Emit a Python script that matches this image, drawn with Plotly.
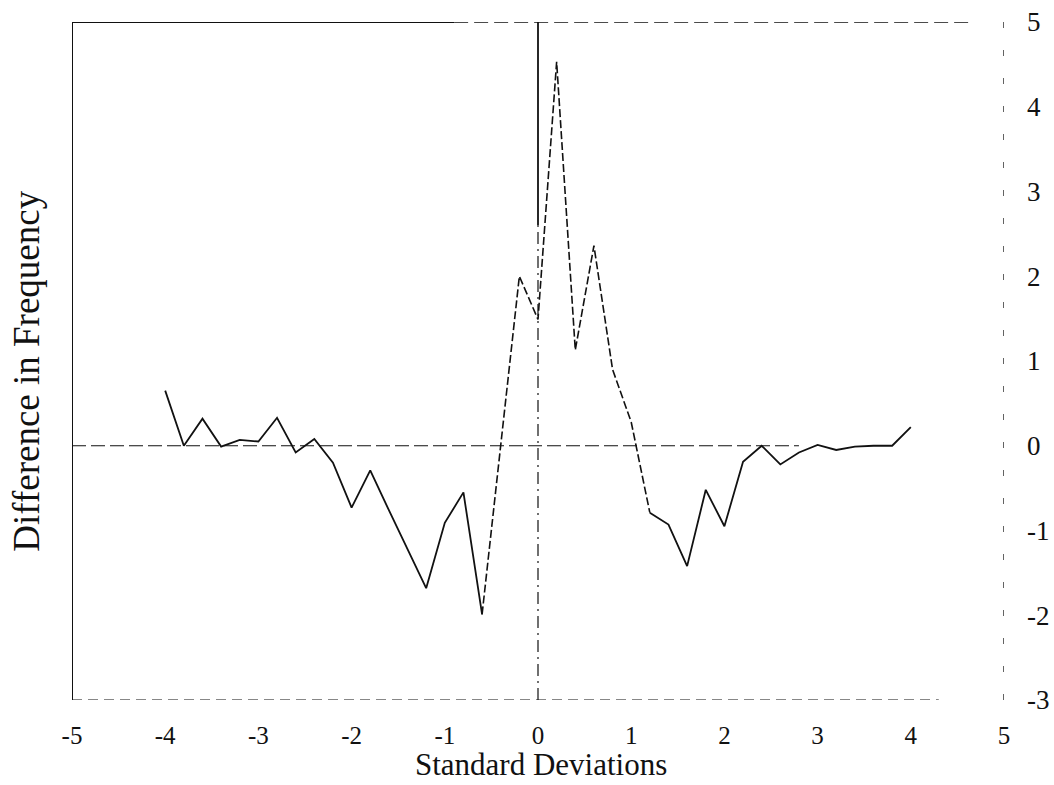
import plotly.graph_objects as go

# Data
std_dev = [-4.0, -3.8, -3.6, -3.4, -3.2, -3.0, -2.8, -2.6, -2.4, -2.2,
           -2.0, -1.8, -1.6, -1.4, -1.2, -1.0, -0.8, -0.6, -0.4, -0.2,
           0.0, 0.2, 0.4, 0.6, 0.8, 1.0, 1.2, 1.4, 1.6, 1.8,
           2.0, 2.2, 2.4, 2.6, 2.8, 3.0, 3.2, 3.4, 3.6, 3.8, 4.0]
freq_diff = [0.65, 0.0, 0.32, -0.01, 0.07, 0.05, 0.33, -0.08, 0.08, -0.2,
             -0.73, -0.29, -0.76, -1.22, -1.68, -0.91, -0.55, -1.99, 0.0, 2.0,
             1.49, 4.53, 1.13, 2.36, 0.9, 0.28, -0.79, -0.93, -1.42, -0.52,
             -0.95, -0.19, 0.0, -0.22, -0.08, 0.01, -0.05, -0.01, 0.0, 0.0, 0.22]
x_ticks = [-5, -4, -3, -2, -1, 0, 1, 2, 3, 4, 5]
y_ticks = [-3, -2, -1, 0, 1, 2, 3, 4, 5]
x_title = "Standard Deviations"
y_title = "Difference in Frequency"

SERIF = "Liberation Serif, Times New Roman, serif"
INK = "#111111"

fig = go.Figure()

# series drawn in three pieces (centre part faint/broken in the scan)
seg_left = slice(0, 18)
seg_mid = slice(17, 27)
seg_right = slice(26, len(std_dev))
fig.add_trace(go.Scatter(x=std_dev[seg_left], y=freq_diff[seg_left], mode="lines",
                         line=dict(color=INK, width=1.8), showlegend=False, hoverinfo="skip"))
fig.add_trace(go.Scatter(x=std_dev[seg_mid], y=freq_diff[seg_mid], mode="lines",
                         line=dict(color=INK, width=1.6, dash="8px,3px"), showlegend=False, hoverinfo="skip"))
fig.add_trace(go.Scatter(x=std_dev[seg_right], y=freq_diff[seg_right], mode="lines",
                         line=dict(color=INK, width=1.8), showlegend=False, hoverinfo="skip"))

xmin, xmax = x_ticks[0], x_ticks[-1]
ymin, ymax = y_ticks[0], y_ticks[-1]

shapes = [
    # left frame
    dict(type="line", x0=xmin, x1=xmin, y0=ymin, y1=ymax, line=dict(color=INK, width=2)),
    # top frame (solid then broken)
    dict(type="line", x0=xmin, x1=-0.9, y0=ymax, y1=ymax, line=dict(color=INK, width=2.2)),
    dict(type="line", x0=-0.9, x1=4.65, y0=ymax, y1=ymax, line=dict(color=INK, width=1.6, dash="14px,6px")),
    # right frame (broken)
    dict(type="line", x0=xmax, x1=xmax, y0=ymin, y1=ymax, line=dict(color=INK, width=1.3, dash="6px,22px")),
    # bottom frame (broken)
    dict(type="line", x0=xmin, x1=4.3, y0=ymin, y1=ymin, line=dict(color=INK, width=1.2, dash="10px,6px")),
    # vertical line at 0
    dict(type="line", x0=0, x1=0, y0=2.6, y1=ymax, line=dict(color=INK, width=1.8)),
    dict(type="line", x0=0, x1=0, y0=ymin, y1=2.6, line=dict(color=INK, width=1.2, dash="12px,5px,2px,5px")),
    # zero line
    dict(type="line", x0=xmin, x1=2.8, y0=0, y1=0, line=dict(color=INK, width=1.2, dash="14px,5px")),
]

fig.update_layout(
    width=1054, height=785,
    margin=dict(l=72, r=50, t=22, b=85, autoexpand=False),
    paper_bgcolor="white", plot_bgcolor="white",
    shapes=shapes,
    font=dict(family=SERIF, color=INK),
    xaxis=dict(range=[xmin, xmax], tickvals=x_ticks, ticktext=[str(v) for v in x_ticks],
               showgrid=False, zeroline=False, showline=False, ticks="", automargin=False,
               tickfont=dict(family=SERIF, size=25, color=INK), ticklabelstandoff=18),
    yaxis=dict(range=[ymin, ymax], tickvals=y_ticks, ticktext=[str(v) for v in y_ticks],
               side="right", showgrid=False, zeroline=False, showline=False, ticks="", automargin=False,
               tickfont=dict(family=SERIF, size=27, color=INK), ticklabelstandoff=22),
    annotations=[
        dict(text=x_title, xref="paper", yref="paper", x=0.503, y=(700 - 784) / 678,
             xanchor="center", yanchor="bottom", showarrow=False,
             font=dict(family=SERIF, size=31, color=INK)),
        dict(text=y_title, xref="paper", yref="paper", x=-0.0483, y=0.4856,
             xanchor="center", yanchor="middle", textangle=-90, showarrow=False,
             font=dict(family=SERIF, size=37, color=INK)),
    ],
)

fig.write_html("out.html")
